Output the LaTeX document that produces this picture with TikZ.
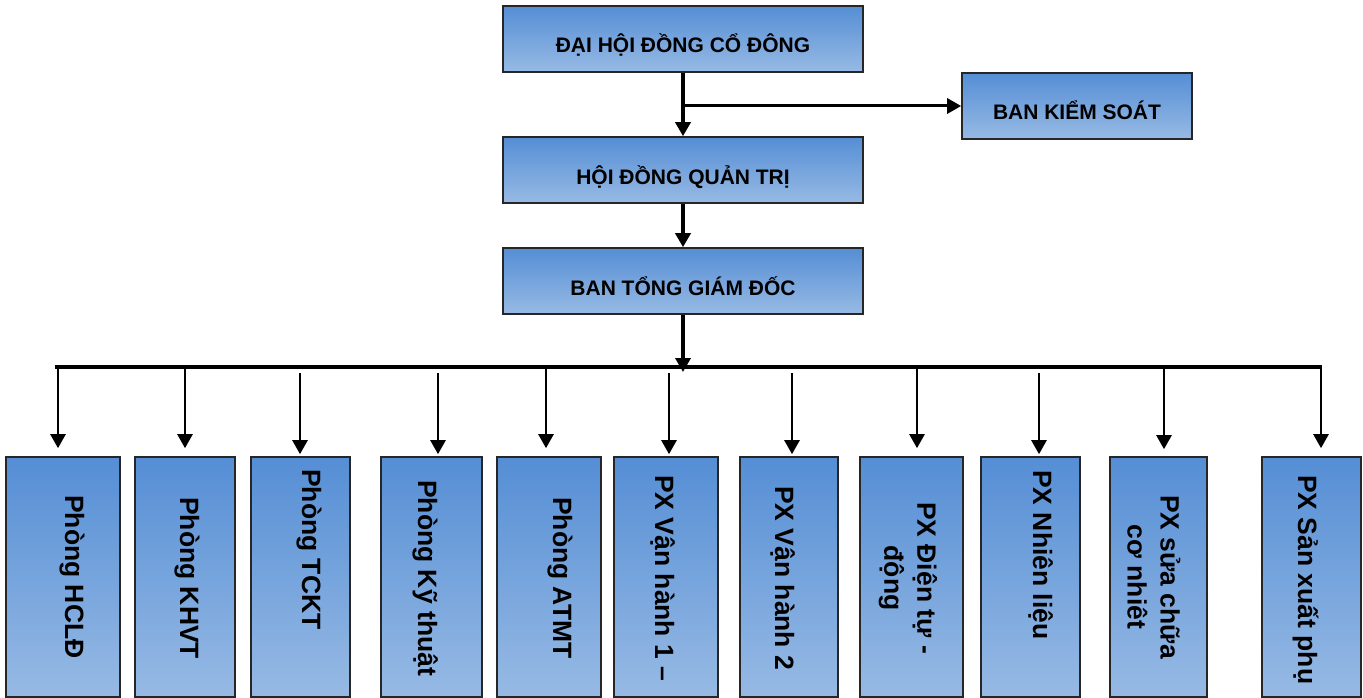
\documentclass[tikz,border=0pt]{standalone}
\usepackage{fontspec}
\setmainfont{Liberation Sans}
\usepackage{xcolor}
\usetikzlibrary{positioning, arrows.meta}
\definecolor{orgtop}{HTML}{558ED5}
\definecolor{orgbot}{HTML}{97BAE4}

\tikzset{
  orgbox/.style={draw=black!85, line width=1.6pt, top color=orgtop, bottom color=orgbot, inner sep=0pt},
  headbox/.style={orgbox, minimum width=360pt, minimum height=66pt,
    font=\fontsize{21}{25}\selectfont\bfseries, text height=28pt, text depth=0pt},
  unitbox/.style={orgbox, minimum height=240pt},
  unitlab/.style={rotate=-90, inner sep=0pt, font=\fontsize{26.5}{33}\selectfont\bfseries},
  arr/.style={-{Triangle[length=14pt,width=15pt]}, line width=2.5pt},
}

\begin{document}
\begin{tikzpicture}[x=1pt, y=-1pt]
  \useasboundingbox (0,0) rectangle (1363,698);
  % upper levels
  \node[headbox] (dh) at (683,39) {ĐẠI HỘI ĐỒNG CỔ ĐÔNG};
  \node[headbox] (hd) at (683,170) {HỘI ĐỒNG QUẢN TRỊ};
  \node[headbox] (tgd) at (683,281) {BAN TỔNG GIÁM ĐỐC};
  \node[headbox, minimum width=230pt] (bks) at (1077,106) {BAN KIỂM SOÁT};
  \draw[arr, line width=3.5pt] (dh) -- (hd);
  \draw[arr, line width=3pt] (dh.south |- bks.west) -- (bks.west);
  \draw[arr, line width=3.5pt] (hd) -- (tgd);
  % departments
  \foreach \n/\cx/\w in {1/63/114, 2/185/100, 3/300.5/99, 4/431.5/101, 5/549/104, 6/666/104,
                         7/789/98, 8/911.5/103, 9/1030.5/99, 10/1158.5/97, 11/1311.5/99}{
    \node[unitbox, minimum width=\w pt] (b\n) at (\cx,577) {};
  }
  \foreach \n/\bx/\sy/\txt in {1/65/495/Phòng HCLĐ, 2/180/497/Phòng KHVT, 3/302/469/Phòng TCKT,
                               4/418/480/Phòng Kỹ thuật, 5/553/497/Phòng ATMT, 6/655/475/PX Vận hành 1 –,
                               7/775/486/PX Vận hành 2, 9/1033/470/PX Nhiên liệu, 11/1298/475/PX Sản xuất phụ}{
    \node[unitlab, anchor=base west] (t\n) at (\bx,\sy) {\txt};
  }
  \node[unitlab, align=center] (t8) at (908,578) {PX Điện tự -\\động};
  \node[unitlab, align=center] (t10) at (1154,577) {PX sửa chữa\\cơ nhiêt};
  % bus
  \coordinate (busL) at (55,367);
  \coordinate (bus) at (683,367);
  \coordinate (busR) at (1322,367);
  \draw[line width=3.5pt] (busL) -- (busR);
  \draw[arr, line width=3.5pt, shorten >=-5pt] (tgd) -- (tgd.south |- bus);
  \foreach \n/\ax/\sa/\sb in {1/58/0/8, 2/185/0/8, 3/300/6/2, 4/438/6/2, 5/546/0/8, 6/669/6/2,
                              7/792/6/2, 8/917/0/8, 9/1039/6/2, 10/1164/0/7, 11/1321/0/8}{
    \draw[arr, shorten <=\sa pt, shorten >=\sb pt] (\ax,0 |- bus) -- (\ax,0 |- b\n.north);
  }
\end{tikzpicture}
\end{document}
